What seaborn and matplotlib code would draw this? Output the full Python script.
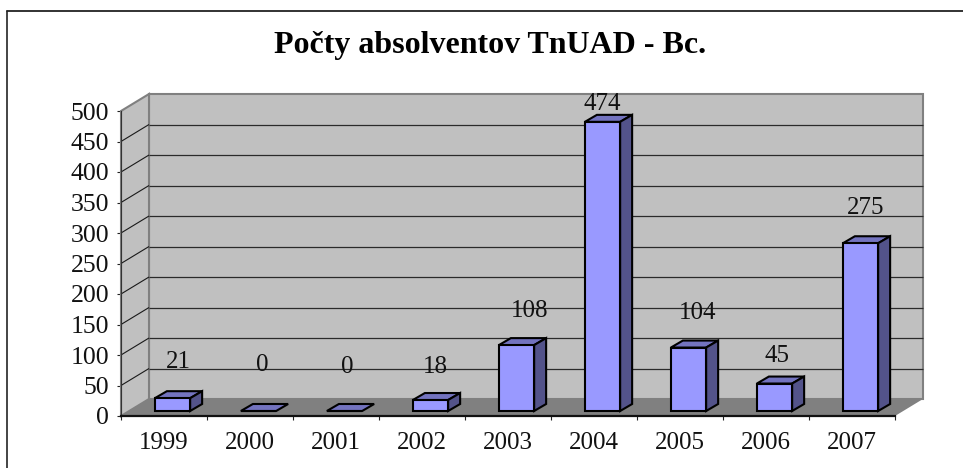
import numpy as np
import pandas as pd
import matplotlib
matplotlib.use("Agg")
import matplotlib.pyplot as plt
from matplotlib.lines import Line2D
from matplotlib.patches import Polygon
from matplotlib.transforms import Affine2D, IdentityTransform
import seaborn as sns

years = ["1999", "2000", "2001", "2002", "2003", "2004", "2005", "2006", "2007"]
graduates = [21, 0, 0, 18, 108, 474, 104, 45, 275]
y_ticks = [0, 50, 100, 150, 200, 250, 300, 350, 400, 450, 500]
title_text = "Počty absolventov TnUAD - Bc."

# pixel offsets of the value labels from the bar-top front centre (as placed in the source)
label_dx = [6, 4, 3, 5, 13, 0, 9, 2, 5]
label_dy = [36, 46, 44, 33, 34, 18, 35, 28, 35]

W, H, DPI = 963, 468, 100
FRONT, TOP, SIDE = "#9999FF", "#7373BF", "#53538A"
WALL, FLOOR, EDGE = "#C0C0C0", "#808080", "#808080"
FONT = ["Liberation Serif", "DejaVu Serif"]

sns.set_theme(style="white")
plt.rcParams["font.family"] = FONT

fig = plt.figure(figsize=(W / DPI, H / DPI), dpi=DPI, facecolor="white")
ax = fig.add_axes([121 / W, (H - 416) / H, 774 / W, 305 / H])
ax.patch.set_visible(False)

df = pd.DataFrame({"year": years, "n": graduates})
sns.barplot(data=df, x="year", y="n", color=FRONT, saturation=1, width=0.41,
            edgecolor="black", linewidth=1.5, ax=ax, zorder=5)
ax.set_xlim(-0.5, 8.5)
ax.set_ylim(0, 500)
ax.set_xlabel("")
ax.set_ylabel("")

# axes furniture
for s in ("top", "right"):
    ax.spines[s].set_visible(False)
ax.spines["left"].set_color("#333333")
ax.spines["left"].set_linewidth(0.8)
ax.spines["bottom"].set_color("#111111")
ax.spines["bottom"].set_linewidth(1.6)
ax.spines["bottom"].set_zorder(4)
ax.set_yticks(y_ticks)
ax.set_xticks(np.arange(-0.5, 9, 1), minor=True)
ax.tick_params(axis="y", which="major", left=True, length=2.9, width=0.8, color="#222222",
               pad=5.5, labelsize=18.5, labelcolor="#111111")
ax.tick_params(axis="x", which="major", bottom=False, length=0, pad=11.5,
               labelsize=18, labelcolor="#111111")
ax.tick_params(axis="x", which="minor", bottom=True, length=2.9, width=0.8, color="#222222")

DX, DY = 28, 17            # depth of the 3-D box, pixels
BX, BY = 8.5, 5            # front of the bars relative to the front plane
dx, dy = 12, 7             # depth of each bar


def P(x, y, ox=0.0, oy=0.0):
    """Data coordinates plus a pixel offset, to display coordinates."""
    a = ax.transData.transform((x, y))
    return (a[0] + ox, a[1] + oy)


def poly(pts, fc, ec="none", lw=0.0, z=1):
    ax.add_patch(Polygon(pts, closed=True, facecolor=fc, edgecolor=ec, linewidth=lw,
                         transform=IdentityTransform(), zorder=z, clip_on=False,
                         joinstyle="miter"))


def seg(x0, y0, x1, y1, color, lw, z=2):
    ax.add_line(Line2D([x0, x1], [y0, y1], color=color, lw=lw, transform=IdentityTransform(),
                       zorder=z, clip_on=False, solid_capstyle="butt"))


xl, xr = ax.get_xlim()
# back wall, side wall and floor
poly([P(xl, 0, DX, DY), P(xr, 0, DX, DY), P(xr, 500, DX, DY), P(xl, 500, DX, DY)], WALL, EDGE, 1.5, 1)
poly([P(xl, 0), P(xl, 0, DX, DY), P(xl, 500, DX, DY), P(xl, 500)], WALL, EDGE, 1.5, 1)
poly([P(xl, 0), P(xr, 0), P(xr, 0, DX, DY), P(xl, 0, DX, DY)], FLOOR, "none", 0, 2)

# gridlines over back wall and side wall
for v in y_ticks[1:-1]:
    a, b = P(xl, v), P(xl, v, DX, DY)
    c = P(xr, v, DX, DY)
    seg(a[0], a[1], b[0], b[1], "#1a1a1a", 0.8)
    seg(b[0], b[1], c[0], c[1], "#2a2a2a", 0.9)

# bars: shift the front faces into the box and add the top and side faces
for i, bar in enumerate(list(ax.containers[0])):
    bar.set_transform(ax.transData + Affine2D().translate(BX, BY))
    bar.set_clip_on(False)
    x0, x1 = bar.get_x(), bar.get_x() + bar.get_width()
    v = bar.get_height()
    poly([P(x0, v, BX, BY), P(x1, v, BX, BY), P(x1, v, BX + dx, BY + dy), P(x0, v, BX + dx, BY + dy)],
         TOP, "black", 1.5, 4)
    if v > 0:
        poly([P(x1, 0, BX, BY), P(x1, 0, BX + dx, BY + dy), P(x1, v, BX + dx, BY + dy), P(x1, v, BX, BY)],
             SIDE, "black", 1.5, 4)
    cx = P((x0 + x1) / 2, v, BX, BY)
    ax.annotate(str(graduates[i]), xy=cx, xycoords="figure pixels",
                xytext=(label_dx[i] / DPI * 72, label_dy[i] / DPI * 72), textcoords="offset points",
                ha="center", va="center", fontsize=18, color="#111111", zorder=8,
                annotation_clip=False)

# outer frame, open at right and bottom as in the source crop
fig.add_artist(Line2D([7, 7], [0, H - 11], color="#111111", lw=1.1, transform=IdentityTransform()))
fig.add_artist(Line2D([7, W], [H - 11, H - 11], color="#222222", lw=1.3, transform=IdentityTransform()))

fig.text(490 / W, (H - 46) / H, title_text, ha="center", va="center", fontsize=23,
         fontweight="bold", color="#000000")

fig.savefig("out.png", dpi=DPI, facecolor="white")
